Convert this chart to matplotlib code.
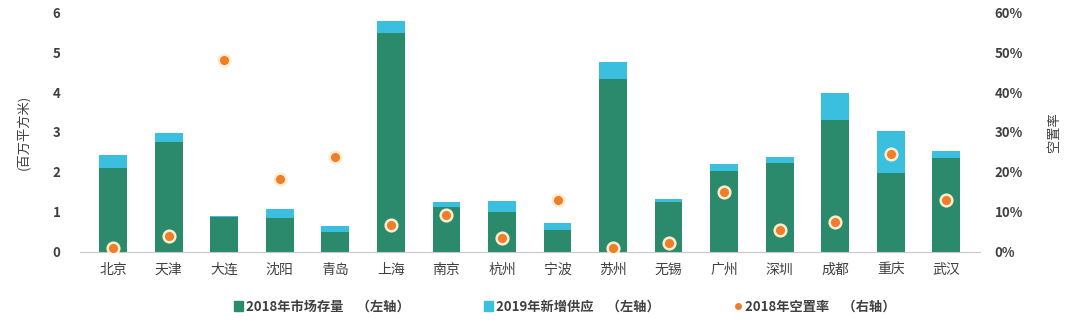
import numpy as np
import matplotlib
matplotlib.use("Agg")
import matplotlib.pyplot as plt
from matplotlib.lines import Line2D
from matplotlib.patches import Patch
from matplotlib.ticker import PercentFormatter

plt.rcParams['font.family'] = ['Noto Sans CJK SC', 'DejaVu Sans']

# 城市及数据（百万平方米 / 空置率%）
cities = ['北京', '天津', '大连', '沈阳', '青岛', '上海', '南京', '杭州',
          '宁波', '苏州', '无锡', '广州', '深圳', '成都', '重庆', '武汉']
stock_2018 = [2.10, 2.75, 0.87, 0.85, 0.50, 5.48, 1.12, 1.00,
              0.55, 4.33, 1.25, 2.02, 2.22, 3.30, 1.97, 2.35]
supply_2019 = [0.33, 0.23, 0.03, 0.23, 0.15, 0.30, 0.13, 0.28,
               0.18, 0.42, 0.07, 0.18, 0.15, 0.67, 1.05, 0.17]
vacancy_2018 = [1.0, 4.0, 48.0, 18.3, 23.7, 6.7, 9.3, 3.5,
                13.0, 1.0, 2.2, 15.0, 5.5, 7.5, 24.5, 13.0]

GREEN = '#2b8a6b'
CYAN = '#3bbfdf'
ORANGE = '#f07d2a'
TEXT = '#404040'

fig = plt.figure(figsize=(10.8, 3.35), dpi=100)
ax = fig.add_axes([0.074, 0.248, 0.833, 0.716])
x = np.arange(len(cities))
w = 0.5

ax.bar(x, stock_2018, width=w, color=GREEN, zorder=2)
ax.bar(x, supply_2019, width=w, bottom=stock_2018, color=CYAN, zorder=2)
ax.set_xlim(-0.6, len(cities) - 0.4)
ax.set_ylim(0, 6)
ax.set_yticks(range(7))
ax.set_xticks(x)
ax.set_xticklabels(cities, fontsize=10, color=TEXT)
ax.tick_params(axis='y', labelsize=9.5, colors=TEXT, length=0, pad=14)
ax.tick_params(axis='x', length=0, pad=8)
for lab in ax.get_yticklabels():
    lab.set_fontweight('bold')
for s in ['top', 'right', 'left']:
    ax.spines[s].set_visible(False)
ax.spines['bottom'].set_color('#c8c8c8')
ax.set_ylabel('(百万平方米)', fontsize=9.5, color=TEXT, labelpad=16)

# 右轴：空置率
ax2 = ax.twinx()
ax2.scatter(x, vacancy_2018, s=70, color=ORANGE, edgecolor='#fbeed0',
            linewidth=1.8, zorder=3)
ax2.set_ylim(0, 60)
ax2.set_yticks(range(0, 61, 10))
ax2.yaxis.set_major_formatter(PercentFormatter(decimals=0))
ax2.tick_params(axis='y', labelsize=9.5, colors=TEXT, length=0, pad=11)
for lab in ax2.get_yticklabels():
    lab.set_fontweight('bold')
for s in ax2.spines.values():
    s.set_visible(False)
ax2.set_ylabel('空置率', fontsize=9.5, color=TEXT, labelpad=18)

handles = [
    Patch(color=GREEN),
    Patch(color=CYAN),
    Line2D([], [], marker='o', color=ORANGE, linestyle='none', markersize=4),
]
labels = ['2018年市场存量　（左轴）', '2019年新增供应　（左轴）', '2018年空置率　（右轴）']
leg = fig.legend(handles, labels, loc='center', bbox_to_anchor=(0.523, 0.085),
                 ncol=3, frameon=False, fontsize=9.5, handlelength=0.7,
                 handleheight=0.7, handletextpad=0.2, columnspacing=5.6)
for t in leg.get_texts():
    t.set_color(TEXT)
    t.set_fontweight('bold')

fig.savefig('out.png', dpi=100, facecolor='white')
